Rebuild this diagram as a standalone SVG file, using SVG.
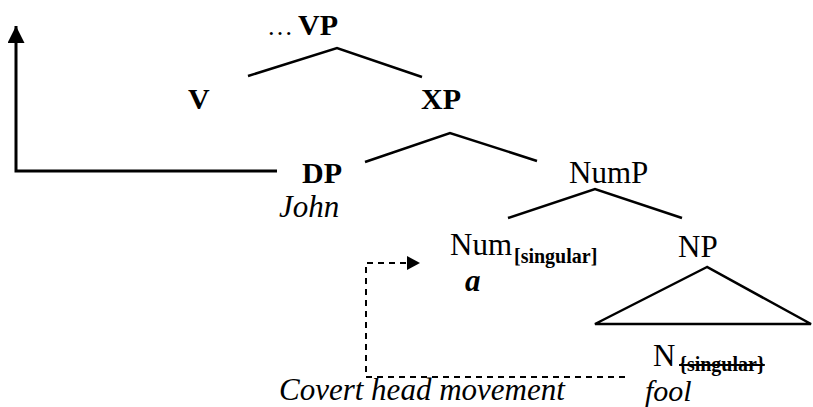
<svg xmlns="http://www.w3.org/2000/svg" width="813" height="407" viewBox="0 0 813 407">
<style>
.t{font-family:'Liberation Serif','DejaVu Serif',serif;fill:#000}
.b{font-weight:bold;font-size:30px}
.r{font-size:31px}
.i{font-style:italic;font-size:31px}
.sub{font-weight:bold;font-size:20px}
.edge{stroke:#000;stroke-width:2.5;fill:none;stroke-linejoin:miter}
.dash{stroke:#000;stroke-width:2;fill:none;stroke-dasharray:6 5}
</style>
<defs>
<marker id="ah2" viewBox="0 0 10 10" refX="10" refY="5" markerWidth="17" markerHeight="17" markerUnits="userSpaceOnUse" orient="auto"><path d="M0,0L10,5L0,10z" fill="#000"/></marker>
</defs>
<g id="connectors">
<path class="edge" d="M248,76L337,48L422,77"/>
<path class="edge" d="M365,162L450,133L537,161"/>
<path class="edge" d="M508,218L595,189L682,218"/>
<path class="edge" d="M707,267L595,324L811,324Z"/>
<path stroke="#000" stroke-width="3" fill="none" d="M277,171H16V26" marker-end="url(#ah2)"/>
<path class="dash" d="M625,377H366V263H407"/>
<path d="M407,256L420,263L407,270Z" fill="#000"/>
</g>
<g font-family="Liberation Serif, DejaVu Serif, serif">
<g id="node-VP"><text x="267" y="35" class="t r" style="font-size:26px">…</text><text x="298" y="35" class="t b">VP</text></g>
<g id="node-V"><text x="188" y="109" class="t b">V</text></g>
<g id="node-XP"><text x="421" y="109" class="t b">XP</text></g>
<g id="node-DP"><text x="302" y="183" class="t b">DP</text><text x="279" y="217" class="t i">John</text></g>
<g id="node-NumP"><text x="569" y="183" class="t r">NumP</text></g>
<g id="node-Num"><text x="450" y="255" class="t r">Num</text><text x="514" y="263" class="t sub">[singular]</text><text x="465" y="291" class="t i" style="font-weight:bold">a</text></g>
<g id="node-NP"><text x="678" y="257" class="t r">NP</text></g>
<g id="node-N"><text x="653" y="366" class="t r">N</text><text x="679" y="371" class="t sub" text-decoration="line-through">{singular}</text><text x="645" y="401" class="t i" style="font-size:30px">fool</text></g>
<g id="label-movement"><text x="279" y="400" class="t i">Covert head movement</text></g>
</g>
</svg>
